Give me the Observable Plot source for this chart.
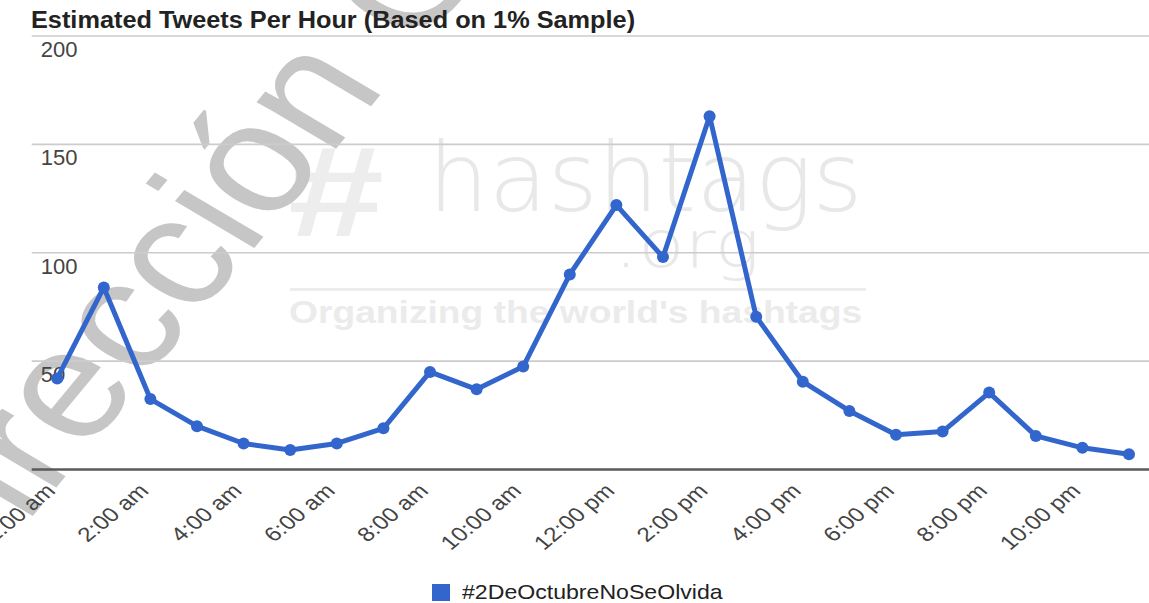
<!DOCTYPE html>
<html>
<head>
<meta charset="utf-8">
<script src="https://cdn.jsdelivr.net/npm/d3@7"></script>
<script src="https://cdn.jsdelivr.net/npm/@observablehq/plot@0.6"></script>
<style>
  html, body { margin: 0; padding: 0; background: #fff; }
  body { font-family: "Liberation Sans", Arial, sans-serif; }
  #wrap { position: relative; width: 1149px; height: 603px; overflow: hidden; background: #fff; }
  .wm { position: absolute; white-space: nowrap; z-index: 0; }
  #title { position: relative; z-index: 1; height: 33px; }
  #title span { position: absolute; left: 31px; top: 9px; font-size: 23px; line-height: 23px; font-weight: bold; color: #222; transform: scaleX(1.1); transform-origin: 0 0; white-space: nowrap; }
  #chart { position: relative; z-index: 1; height: 542px; }
  #legend { position: relative; z-index: 1; height: 28px; }
  #legend .sw { position: absolute; left: 432px; top: 9px; width: 18px; height: 17px; background: #3366cc; }
  #legend .lb { position: absolute; left: 462px; top: 6px; font-size: 21px; line-height: 21px; color: #222; transform: scaleX(1.1); transform-origin: 0 0; white-space: nowrap; }
</style>
</head>
<body>
<div id="wrap">
  <!-- background watermarks -->
  <div class="wm" style="left:288px; top:128px; font-size:128px; line-height:128px; font-weight:bold; color:#ededed; transform:scaleX(1.35); transform-origin:0 0;">#</div>
  <div class="wm" style="left:428px; top:130px; font-family:'DejaVu Sans'; font-weight:200; font-size:96px; line-height:96px; color:#e8e8e8; transform-origin:0 0;">hashtags</div>
  <div class="wm" style="left:614px; top:212px; font-family:'DejaVu Sans'; font-weight:200; font-size:66px; line-height:66px; color:#e8e8e8; transform:scaleX(1.15); transform-origin:0 0;">.org</div>
  <div class="wm" style="left:290px; top:288px; width:576px; height:3px; background:#ededed;"></div>
  <div class="wm" style="left:289px; top:297px; font-size:31px; line-height:31px; font-weight:bold; color:#ebebeb; transform:scaleX(1.2); transform-origin:0 0;">Organizing the world's hashtags</div>
  <div class="wm" style="left:-52px; top:486px; font-size:155px; line-height:155px; color:#c6c6c6; transform-origin:0 129px; transform:scaleX(1.18) rotate(-55deg);">Dirección General</div>

  <div id="title"><span>Estimated Tweets Per Hour (Based on 1% Sample)</span></div>
  <div id="chart"></div>
  <div id="legend"><div class="sw"></div><div class="lb"></div></div>
</div>
<script>
// ---- data ----
const seriesName = "#2DeOctubreNoSeOlvida";
const hours = [0, 1, 2, 3, 4, 5, 6, 7, 8, 9, 10, 11, 12, 13, 14, 15, 16, 17, 18, 19, 20, 21, 22, 23];
const tweets = [42, 84, 32.5, 20, 12, 9, 12, 19, 45, 37, 47.5, 90, 122, 98, 163, 70.5, 40.5, 27, 16, 17.5, 35.5, 15.5, 10, 7];
const tickHours = [0, 2, 4, 6, 8, 10, 12, 14, 16, 18, 20, 22];
const tickLabels = ["12:00 am", "2:00 am", "4:00 am", "6:00 am", "8:00 am", "10:00 am",
                    "12:00 pm", "2:00 pm", "4:00 pm", "6:00 pm", "8:00 pm", "10:00 pm"];
const yTicks = [50, 100, 150, 200];
const baseline = [0];

const data = hours.map((h, i) => ({hour: h, value: tweets[i]}));
const labelOf = new Map(tickHours.map((h, i) => [h, tickLabels[i]]));

const blue = "#3366cc";

const chart = Plot.plot({
  width: 1149,
  height: 542,
  marginLeft: 56.7,
  marginRight: 20.5,
  marginTop: 2.5,
  marginBottom: 106,
  style: {fontFamily: '"Liberation Sans", Arial, sans-serif', background: "transparent", overflow: "hidden", color: "#444"},
  x: {domain: [0, 23], axis: null, label: null},
  y: {domain: [0, 200], axis: null, label: null},
  marks: [
    Plot.ruleY(yTicks, {stroke: "#cccccc", strokeWidth: 1.6, insetLeft: -25, insetRight: -21}),
    Plot.text(yTicks, {y: d => d, text: d => String(d), frameAnchor: "left", textAnchor: "start",
                       dx: -16.5, dy: 14, fontSize: 22, fill: "#444"}),
    Plot.ruleY(baseline, {stroke: "#5a5a5a", strokeWidth: 2.4, insetLeft: -25, insetRight: -21}),
    Plot.axisX(tickHours, {tickFormat: d => labelOf.get(d), tickRotate: -45, tickSize: 0,
                           tickPadding: 18, dx: -6, fontSize: 20, fill: "#444", label: null}),
    Plot.line(data, {x: "hour", y: "value", stroke: blue, strokeWidth: 5, strokeLinejoin: "round"}),
    Plot.dot(data, {x: "hour", y: "value", fill: blue, r: 6})
  ]
});
// horizontal stretch of the rotated tick labels, as in the reference rendering
d3.select(chart).selectAll('g[aria-label="x-axis tick label"] text').each(function () {
  const t = this.getAttribute("transform") || "";
  if (t.includes("rotate")) this.setAttribute("transform", t.replace("rotate", "scale(1.22,1) rotate"));
});
document.getElementById("chart").appendChild(chart);
document.querySelector("#legend .lb").textContent = seriesName;
</script>
</body>
</html>
